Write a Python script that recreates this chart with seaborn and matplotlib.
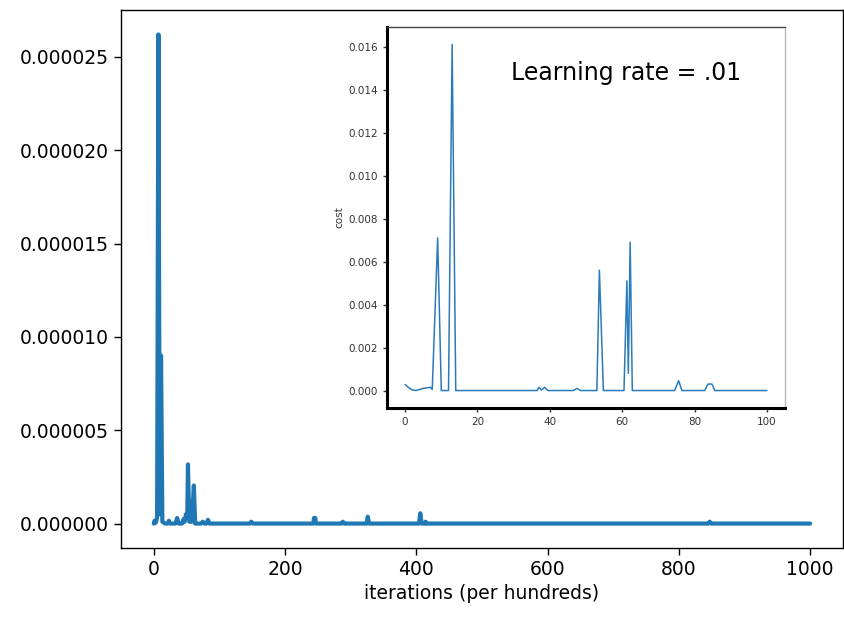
# cost_curve_inset.py
import matplotlib
matplotlib.use("Agg")
import matplotlib.pyplot as plt
import seaborn as sns
from matplotlib.ticker import FormatStrFormatter

# ------------------------
# Data
# ------------------------
# main run: cost per hundred iterations (sparse key points)
MAIN_X = [0, 1, 3, 5, 7, 9, 11, 13, 17, 21, 23, 25, 33, 35.5, 38, 43, 45.5, 47,
          49, 51, 52, 54, 58, 61, 63, 72, 74.5, 77, 80, 82.5, 85, 146, 148.5,
          151, 243, 244, 246, 247, 286, 288, 290, 324, 326, 328, 404, 406, 408,
          413, 414, 415, 845, 847, 849, 1000]
MAIN_Y = [0, 1.5e-7, 0.5e-7, 3e-7, 2.62e-5, 5e-7, 9.0e-6, 1e-7, 0, 0, 1.5e-7,
          0, 0, 3e-7, 0, 0, 2.5e-7, 1e-7, 5e-7, 5e-7, 3.17e-6, 1e-7, 1e-7,
          2.04e-6, 0, 0, 1e-7, 0, 0, 2e-7, 0, 0, 1e-7, 0, 0, 3e-7, 3e-7, 0, 0,
          1e-7, 0, 0, 3.7e-7, 0, 0, 5.5e-7, 0, 0, 1e-7, 0, 0, 1e-7, 0, 0]
MAIN_YTICKS = [0, 5e-6, 1e-5, 1.5e-5, 2e-5, 2.5e-5]

# inset: learning rate = .01, first 100 points
INSET_X = [0, 1, 2, 3, 5, 7, 7.5, 9, 10, 12, 13, 14, 36.5, 37, 37.7, 38.5,
           39.5, 46.5, 47.5, 48.5, 53, 53.7, 54.8, 60.5, 61.3, 61.7, 62.2,
           62.8, 74.5, 75.6, 76.5, 82.8, 83.7, 84.8, 85.6, 100]
INSET_Y = [0.00028, 0.00013, 0.00003, 0.0, 0.0001, 0.00015, 0.00005, 0.0071,
           0.0, 0.0, 0.0161, 0.0, 0.0, 0.00015, 0.00002, 0.00015, 0.0, 0.0,
           0.0001, 0.0, 0.0, 0.0056, 0.0, 0.0, 0.0051, 0.0008, 0.0069, 0.0,
           0.0, 0.00046, 0.0, 0.0, 0.0003, 0.0003, 0.0, 0.0]
INSET_YTICKS = [0.0, 0.002, 0.004, 0.006, 0.008, 0.010, 0.012, 0.014, 0.016]
INSET_XTICKS = [0, 20, 40, 60, 80, 100]

# ------------------------
# Style
# ------------------------
sns.set_style("ticks")
plt.rcParams["font.family"] = ["DejaVu Sans"]
plt.rcParams["axes.edgecolor"] = "black"
plt.rcParams["text.color"] = "black"
plt.rcParams["xtick.color"] = "black"
plt.rcParams["ytick.color"] = "black"
plt.rcParams["axes.labelcolor"] = "black"

fig = plt.figure(figsize=(8.45, 6.17), dpi=100)

# ------------------------
# Main axes
# ------------------------
ax = fig.add_axes([0.1432, 0.1118, 0.8544, 0.8720])
sns.lineplot(x=MAIN_X, y=MAIN_Y, ax=ax, color="#1f77b4", linewidth=3,
             estimator=None)
ax.set_yticks(MAIN_YTICKS)
ax.yaxis.set_major_formatter(FormatStrFormatter("%.6f"))
ax.set_xticks([0, 200, 400, 600, 800, 1000])
ax.tick_params(labelsize=13.5, length=5, width=1)
ax.set_xlabel("iterations (per hundreds)", fontsize=13.5)
for sp in ax.spines.values():
    sp.set_linewidth(1)

# ------------------------
# Inset (the lr = .01 run)
# ------------------------
ins = fig.add_axes([0.458, 0.339, 0.471, 0.617])
sns.lineplot(x=INSET_X, y=INSET_Y, ax=ins, color="#2b7bba", linewidth=1.1,
             estimator=None)
ins.set_yticks(INSET_YTICKS)
ins.set_xticks(INSET_XTICKS)
ins.yaxis.set_major_formatter(FormatStrFormatter("%.3f"))
ins.tick_params(labelsize=7.5, length=3, width=1, colors="#333333")
ins.set_ylabel("cost", fontsize=7.5, color="#333333", labelpad=3)
ins.spines["left"].set_linewidth(2.2)
ins.spines["bottom"].set_linewidth(2.2)
ins.spines["top"].set_linewidth(1)
ins.spines["right"].set_linewidth(1)
ins.spines["top"].set_color("#444444")
ins.spines["right"].set_color("#bbbbbb")
ins.text(0.60, 0.879, "Learning rate = .01", transform=ins.transAxes,
         ha="center", va="center", fontsize=17)

fig.savefig("out.png", dpi=100, facecolor="white")
